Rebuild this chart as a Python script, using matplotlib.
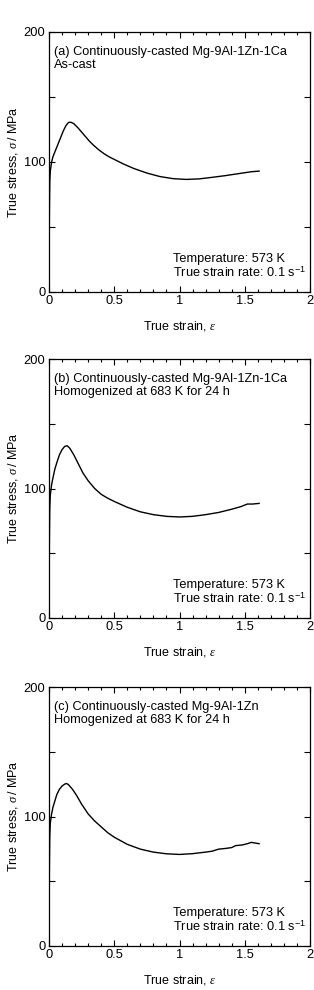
import numpy as np
import matplotlib
matplotlib.use("Agg")
import matplotlib.pyplot as plt
from matplotlib.ticker import MultipleLocator

plt.rcParams['font.family'] = ['Liberation Sans', 'DejaVu Sans']
plt.rcParams['mathtext.fontset'] = 'custom'
plt.rcParams['mathtext.rm'] = 'Liberation Sans'
plt.rcParams['mathtext.it'] = 'Liberation Serif:italic'

# True strain / true stress (MPa)
strain_a = [0, 0.003, 0.006, 0.01, 0.02, 0.03, 0.05, 0.07, 0.09, 0.11, 0.13, 0.15, 0.17, 0.19, 0.22,
            0.25, 0.28, 0.31, 0.34, 0.38, 0.42, 0.46, 0.50, 0.57, 0.65, 0.75, 0.85, 0.95, 1.05,
            1.15, 1.25, 1.35, 1.45, 1.55, 1.61]
stress_a = [0, 60, 85, 93, 100, 104, 109, 114, 119, 124, 128, 130.5, 130.5, 129.5, 126.5,
            123, 119.5, 116, 113, 109.5, 106.5, 104, 102, 98.5, 95, 91.5, 88.8, 87.2, 86.6,
            87, 88.2, 89.5, 91, 92.5, 93]

strain_b = [0, 0.003, 0.006, 0.01, 0.02, 0.03, 0.045, 0.06, 0.08, 0.10, 0.12, 0.14, 0.16, 0.19,
            0.22, 0.26, 0.30, 0.35, 0.40, 0.45, 0.50, 0.60, 0.70, 0.80, 0.90, 1.00, 1.10,
            1.20, 1.30, 1.40, 1.47, 1.52, 1.56, 1.61]
stress_b = [0, 60, 85, 95, 103, 108, 115, 120, 126, 130, 132.5, 133, 131, 126,
            120, 112, 106, 100, 95.5, 92.5, 90, 85.5, 82, 79.8, 78.5, 78, 78.5,
            79.8, 81.5, 84, 86, 88, 88, 88.5]

strain_c = [0, 0.003, 0.006, 0.01, 0.02, 0.03, 0.045, 0.06, 0.08, 0.10, 0.12, 0.135, 0.15, 0.18,
            0.21, 0.25, 0.30, 0.35, 0.40, 0.45, 0.50, 0.60, 0.70, 0.80, 0.90, 1.00, 1.10,
            1.20, 1.25, 1.30, 1.35, 1.40, 1.43, 1.48, 1.52, 1.55, 1.58, 1.61]
stress_c = [0, 60, 85, 95, 102, 107, 112, 117, 121, 123.5, 125, 125.5, 124.5, 121,
            116.5, 109.5, 102, 96.5, 92, 87.5, 84, 78.5, 74.8, 72.5, 71.2, 70.7, 71.3,
            72.5, 73.2, 74.8, 75.3, 76, 77.5, 78, 79, 80, 79.5, 79]

titles = ["(a) Continuously-casted Mg-9Al-1Zn-1Ca\nAs-cast",
          "(b) Continuously-casted Mg-9Al-1Zn-1Ca\nHomogenized at 683 K for 24 h",
          "(c) Continuously-casted Mg-9Al-1Zn\nHomogenized at 683 K for 24 h"]
conditions = "Temperature: 573 K\nTrue strain rate: 0.1 s$^{-1}$"

fig = plt.figure(figsize=(3.14, 9.9), dpi=100)
W, H = 314, 990
# axes boxes in pixels: (left, top, right, bottom)
boxes = [(49, 32, 310, 292), (49, 359, 310, 618), (49, 687, 310, 946)]
curves = [(strain_a, stress_a), (strain_b, stress_b), (strain_c, stress_c)]

for (l, t, r, b), (x, y), title in zip(boxes, curves, titles):
    ax = fig.add_axes([l / W, 1 - b / H, (r - l) / W, (b - t) / H])
    ax.plot(x, y, color='black', lw=1.0)
    ax.set_xlim(0, 2)
    ax.set_ylim(0, 200)
    ax.xaxis.set_minor_locator(MultipleLocator(0.1))
    ax.set_yticks([0, 50, 100, 150, 200])
    ax.set_yticklabels(['0', '', '100', '', '200'])
    ax.set_xticks([0, 0.5, 1, 1.5, 2])
    ax.set_xticklabels(['0', '0.5', '1', '1.5', '2'])
    ax.tick_params(which='both', direction='in', top=True, right=True,
                   labelsize=9.3, width=0.8, pad=2.5)
    ax.tick_params(which='major', length=4)
    ax.tick_params(which='minor', length=2.5)
    for s in ax.spines.values():
        s.set_linewidth(0.9)
    ax.set_xlabel(r'True strain, $\varepsilon$', fontsize=9, labelpad=8)
    ax.set_ylabel(r'True stress, $\sigma\,$/ MPa', fontsize=9, labelpad=3)
    ax.text(0.02, 0.945, title, transform=ax.transAxes, fontsize=9.2,
            va='top', ha='left', linespacing=1.1)
    ax.text(0.475, 0.045, conditions, transform=ax.transAxes, fontsize=9.2,
            va='bottom', ha='left', linespacing=1.1)

fig.savefig('out.png', dpi=100)
